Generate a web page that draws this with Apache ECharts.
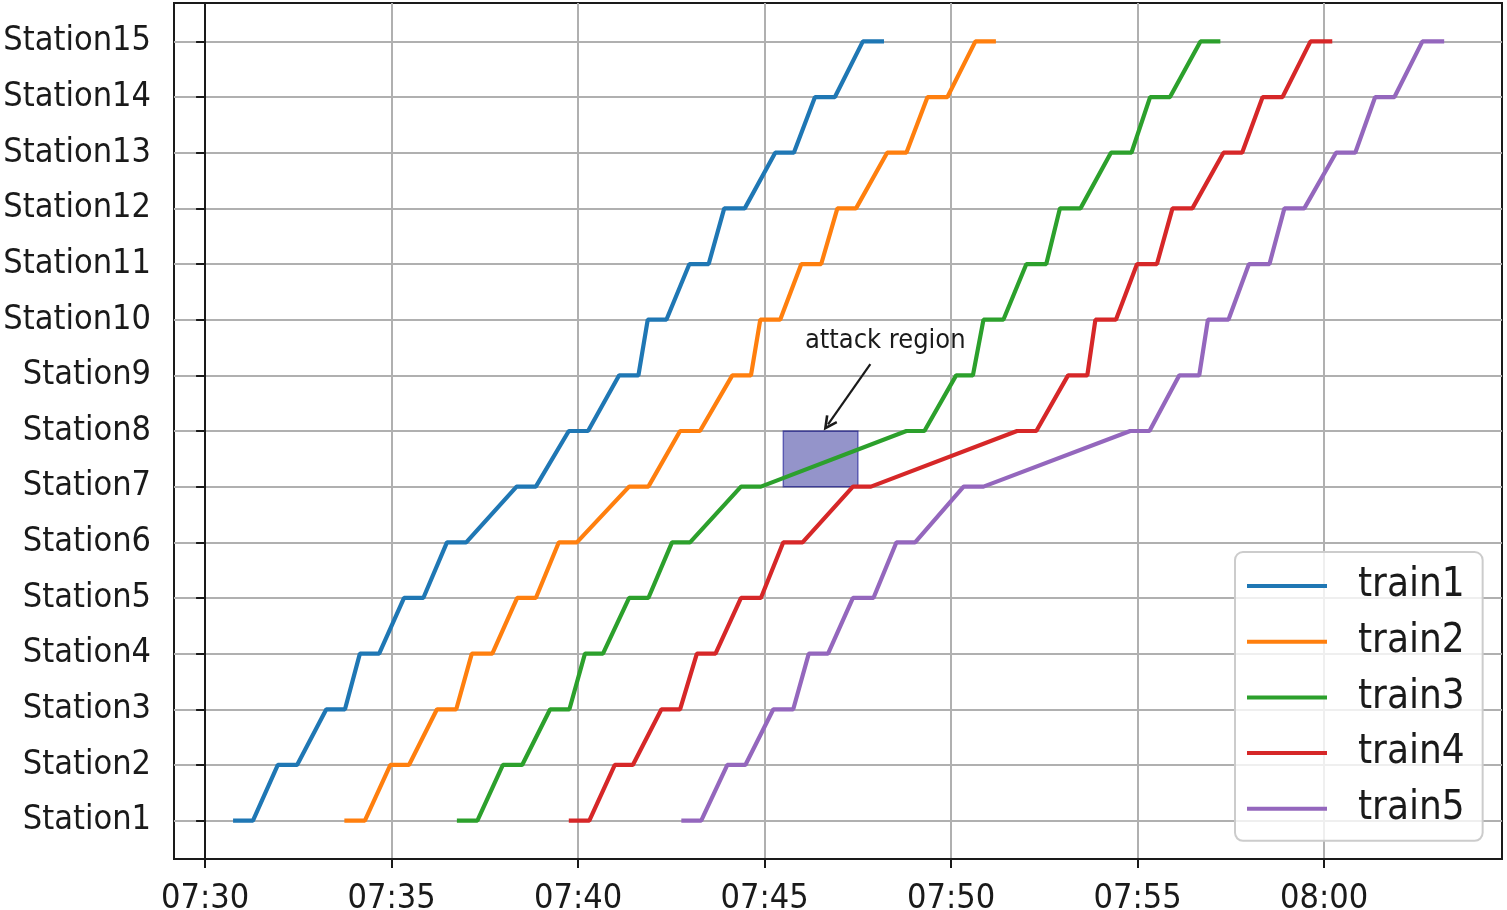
<!DOCTYPE html>
<html>
<head>
<meta charset="utf-8">
<script src="https://cdn.jsdelivr.net/npm/echarts@6/dist/echarts.min.js"></script>
<style>
html,body{margin:0;padding:0;background:#fff;}
#chart{width:1507px;height:910px;}
</style>
</head>
<body>
<div id="chart"></div>
<script>
// Stations (y axis categories)
const stations = ['Station1','Station2','Station3','Station4','Station5','Station6','Station7','Station8',
  'Station9','Station10','Station11','Station12','Station13','Station14','Station15'];
const trainNames = ['train1','train2','train3','train4','train5'];
const trainColors = ['#1f77b4','#ff7f0e','#2ca02c','#d62728','#9467bd'];

// Times in seconds after 07:30:00 (arrival / departure at each station)
const train1Arr = [45,117,195,249,320,389,501,585,666,712,779,835,917,981,1058];
const train1Dep = [77,148,225,280,351,420,532,616,697,742,810,868,947,1013,1092];
const train2Arr = [224,298,373,429,502,569,682,764,848,893,959,1017,1097,1162,1239];
const train2Dep = [257,328,404,462,532,598,713,796,878,925,991,1047,1128,1194,1272];
const train3Arr = [405,479,555,611,682,751,862,1128,1208,1252,1321,1375,1457,1520,1601];
const train3Dep = [438,510,586,640,713,780,894,1157,1235,1284,1353,1408,1490,1552,1633];
const train4Arr = [585,659,734,791,862,930,1042,1306,1388,1432,1499,1556,1638,1701,1778];
const train4Dep = [618,688,764,821,894,961,1071,1337,1419,1465,1531,1588,1668,1733,1813];
const train5Arr = [766,840,914,971,1042,1112,1220,1488,1567,1613,1679,1736,1819,1882,1958];
const train5Dep = [798,869,946,1002,1075,1142,1252,1519,1599,1646,1712,1768,1850,1913,1993];

// X tick values (seconds after 07:30) and their labels
const xTickValues = [0,300,600,900,1200,1500,1800];
const xTickLabels = ['07:30','07:35','07:40','07:45','07:50','07:55','08:00'];
const yTickValues = [1,2,3,4,5,6,7,8,9,10,11,12,13,14,15];

// Attack region (seconds, station index) and annotation
const attackX = [930, 1050];
const attackY = [7, 8];
const annotText = 'attack region';
const annotPos = [1094, 9.62];
const arrowFrom = [1070, 9.2];
const arrowTo = [1002, 8.12];

const arrs = [train1Arr, train2Arr, train3Arr, train4Arr, train5Arr];
const deps = [train1Dep, train2Dep, train3Dep, train4Dep, train5Dep];

const FONT = '"DejaVu Sans Condensed", "DejaVu Sans"';

const series = [];
series.push({
  name: 'annot',
  type: 'line',
  data: [],
  silent: true,
  markArea: {
    silent: true,
    itemStyle: { color: 'rgba(0,0,128,0.42)', borderColor: 'rgba(0,0,140,0.5)', borderWidth: 1.5 },
    data: [[{ coord: [attackX[0], attackY[0]] }, { coord: [attackX[1], attackY[1]] }]]
  },
  markLine: {
    silent: true,
    symbol: ['none', 'path://M5,0 L10,10 L8.4,11 L5,4.2 L1.6,11 L0,10 Z'],
    symbolSize: [14, 15],
    lineStyle: { color: '#1a1a1a', width: 2.2, type: 'solid' },
    label: { show: false },
    data: [[{ coord: arrowFrom }, { coord: arrowTo }]]
  },
  markPoint: {
    silent: true,
    symbol: 'circle',
    symbolSize: 1,
    itemStyle: { color: 'rgba(0,0,0,0)' },
    label: { show: true, position: 'inside', formatter: annotText, fontSize: 27, fontFamily: FONT, color: '#1a1a1a' },
    data: [{ coord: annotPos }]
  }
});

trainNames.forEach((name, k) => {
  const pts = [];
  for (let i = 0; i < stations.length; i++) {
    pts.push([arrs[k][i], i + 1]);
    pts.push([deps[k][i], i + 1]);
  }
  series.push({
    name: name,
    type: 'line',
    data: pts,
    showSymbol: false,
    symbol: 'none',
    color: trainColors[k],
    lineStyle: { width: 4.2, color: trainColors[k] },
    z: 3
  });
});

const chart = echarts.init(document.getElementById('chart'), null, { renderer: 'canvas' });
chart.setOption({
  animation: false,
  backgroundColor: '#ffffff',
  grid: { left: 174, right: 5, top: 3, bottom: 51, containLabel: false, outerBoundsMode: 'none',
          show: true, borderColor: '#1a1a1a', borderWidth: 2, backgroundColor: 'transparent' },
  xAxis: {
    type: 'value',
    min: -50,
    max: 2086,
    axisLine: { show: true, lineStyle: { color: '#1a1a1a', width: 2 } },
    axisTick: { show: true, inside: false, length: 9, customValues: xTickValues, lineStyle: { color: '#1a1a1a', width: 2 } },
    axisLabel: {
      customValues: xTickValues,
      margin: 23,
      fontSize: 34, fontFamily: FONT, color: '#1a1a1a',
      formatter: v => xTickLabels[xTickValues.indexOf(v)]
    },
    splitLine: { show: true, lineStyle: { color: '#b0b0b0', width: 2 } }
  },
  yAxis: {
    type: 'value',
    min: 0.31,
    max: 15.69,
    axisLine: { show: true, lineStyle: { color: '#1a1a1a', width: 2 } },
    axisTick: { show: true, inside: false, length: 9, customValues: yTickValues, lineStyle: { color: '#1a1a1a', width: 2 } },
    axisLabel: {
      customValues: yTickValues,
      margin: 23,
      padding: [16, 0, 0, 0],
      fontSize: 34, fontFamily: FONT, color: '#1a1a1a',
      formatter: v => stations[v - 1]
    },
    splitLine: { show: true, lineStyle: { color: '#b0b0b0', width: 2 } }
  },
  legend: {
    data: trainNames,
    orient: 'vertical',
    left: 1235,
    top: 552,
    padding: [13, 18, 11, 12],
    itemWidth: 80,
    itemHeight: 4,
    itemGap: 13.7,
    icon: 'rect',
    backgroundColor: 'rgba(255,255,255,0.8)',
    borderColor: '#cccccc',
    borderWidth: 2,
    borderRadius: 8,
    textStyle: { fontSize: 40, fontFamily: FONT, color: '#1a1a1a', lineHeight: 42, padding: [0, 0, 0, 26] },
    z: 10
  },
  series: series
});
</script>
</body>
</html>
